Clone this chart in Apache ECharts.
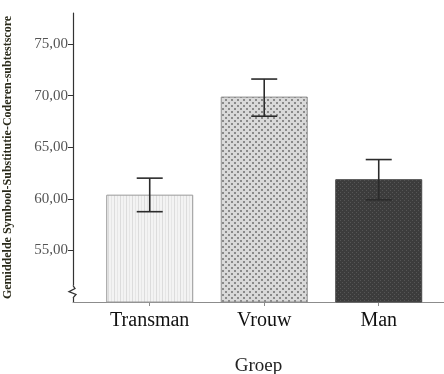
<!DOCTYPE html>
<html>
<head>
<meta charset="utf-8">
<script src="https://cdn.jsdelivr.net/npm/echarts@6/dist/echarts.min.js"></script>
<style>
  html, body { margin: 0; padding: 0; background: #fff; }
  #chart { width: 444px; height: 374px; }
</style>
</head>
<body>
<div id="chart"></div>
<script>
// Group means with 95% CI bounds
const categories = ['Transman', 'Vrouw', 'Man'];
const means = [60.4, 69.9, 61.9];
const ciLower = [58.75, 68.0, 59.9];
const ciUpper = [62.0, 71.6, 63.8];
const yTicks = [55, 60, 65, 70, 75];

function makePattern(size, draw) {
  const c = document.createElement('canvas');
  c.width = size; c.height = size;
  const ctx = c.getContext('2d');
  draw(ctx, size);
  return { image: c, repeat: 'repeat' };
}

// light fill with vertical stripes
const stripes = makePattern(6, (ctx, s) => {
  ctx.fillStyle = '#f3f3f3'; ctx.fillRect(0, 0, s, s);
  ctx.fillStyle = '#dcdcdc'; ctx.fillRect(0, 0, 1, s);
  ctx.fillStyle = '#e6e6e6'; ctx.fillRect(3, 0, 1, s);
});
// dotted checker
const dots = makePattern(6, (ctx, s) => {
  ctx.fillStyle = '#d9d9d9'; ctx.fillRect(0, 0, s, s);
  ctx.fillStyle = '#8a8a8a';
  ctx.fillRect(0, 0, 2, 2);
  ctx.fillRect(3, 3, 2, 2);
});
// dark fine hatch
const dark = makePattern(4, (ctx, s) => {
  ctx.fillStyle = '#3c3c3c'; ctx.fillRect(0, 0, s, s);
  ctx.fillStyle = '#555555';
  ctx.fillRect(0, 0, 1, 1);
  ctx.fillRect(2, 2, 1, 1);
});
const fills = [stripes, dots, dark];
const borders = ['#9a9a9a', '#8c8c8c', '#4a4a4a'];

const chart = echarts.init(document.getElementById('chart'), null, { renderer: 'canvas' });

const serif = '"Liberation Serif", "Times New Roman", serif';

chart.setOption({
  animation: false,
  backgroundColor: '#fff',
  grid: { left: 73, top: 13, width: 371, bottom: 72, outerBoundsMode: 'none', containLabel: false },
  xAxis: {
    type: 'value',
    min: -0.67,
    max: 2.57,
    splitLine: { show: false },
    axisLine: { show: true, onZero: false, lineStyle: { color: '#8c8c8c', width: 1 } },
    axisTick: { show: true, customValues: [0, 1, 2], length: 4, lineStyle: { color: '#8c8c8c' } },
    axisLabel: {
      customValues: [0, 1, 2],
      formatter: v => categories[Math.round(v)] || '',
      fontFamily: serif, fontSize: 20, color: '#111', margin: 9
    },
    name: 'Groep',
    nameLocation: 'middle',
    nameGap: 55,
    nameTextStyle: { fontFamily: serif, fontSize: 19, color: '#222' }
  },
  yAxis: {
    type: 'value',
    min: 50,
    max: 78,
    interval: 5,
    splitLine: { show: false },
    axisLine: { show: true, onZero: false, lineStyle: { color: '#333', width: 1.2 } },
    axisTick: { show: true, customValues: yTicks, length: 5, lineStyle: { color: '#333' } },
    axisLabel: {
      customValues: yTicks,
      formatter: v => v.toFixed(2).replace('.', ','),
      fontFamily: serif, fontSize: 15, color: '#555', margin: 5
    },
    name: 'Gemiddelde Symbool-Substitutie-Coderen-subtestscore',
    nameLocation: 'middle',
    nameRotate: 90,
    nameGap: 59,
    nameTextStyle: { fontFamily: serif, fontSize: 12, fontWeight: 'bold', color: '#2a2a1a' }
  },
  series: [
    {
      type: 'bar',
      barWidth: 87,
      data: means.map((m, i) => ({
        value: [i, m],
        itemStyle: { color: fills[i], borderColor: borders[i], borderWidth: 1 }
      }))
    },
    {
      type: 'custom',
      data: means.map((m, i) => [i, ciLower[i], ciUpper[i]]),
      renderItem: (params, api) => {
        const lo = api.coord([api.value(0), api.value(1)]);
        const hi = api.coord([api.value(0), api.value(2)]);
        const half = 13;
        const style = { stroke: '#2b2b2b', lineWidth: 1.6 };
        return {
          type: 'group',
          children: [
            { type: 'line', shape: { x1: hi[0], y1: hi[1], x2: lo[0], y2: lo[1] }, style },
            { type: 'line', shape: { x1: hi[0] - half, y1: hi[1], x2: hi[0] + half, y2: hi[1] }, style },
            { type: 'line', shape: { x1: lo[0] - half, y1: lo[1], x2: lo[0] + half, y2: lo[1] }, style }
          ]
        };
      },
      z: 5
    }
  ]
});

// axis break marker near the bottom of the value axis
const p1 = chart.convertToPixel({ gridIndex: 0 }, [-0.67, 51.6]);
const p2 = chart.convertToPixel({ gridIndex: 0 }, [-0.67, 50.4]);
const ax = p1[0], yTop = p1[1], yBot = p2[1];
const h = yBot - yTop;
chart.setOption({
  graphic: [
    { type: 'rect', shape: { x: ax - 2, y: yTop, width: 4, height: h }, style: { fill: '#fff' }, z: 10 },
    {
      type: 'polyline',
      shape: {
        points: [
          [ax, yTop],
          [ax + 2, yTop + h * 0.25],
          [ax - 4, yTop + h * 0.5],
          [ax + 3, yTop + h * 0.72],
          [ax, yBot]
        ]
      },
      style: { stroke: '#333', lineWidth: 1.3, fill: null },
      z: 11
    }
  ]
});
</script>
</body>
</html>
